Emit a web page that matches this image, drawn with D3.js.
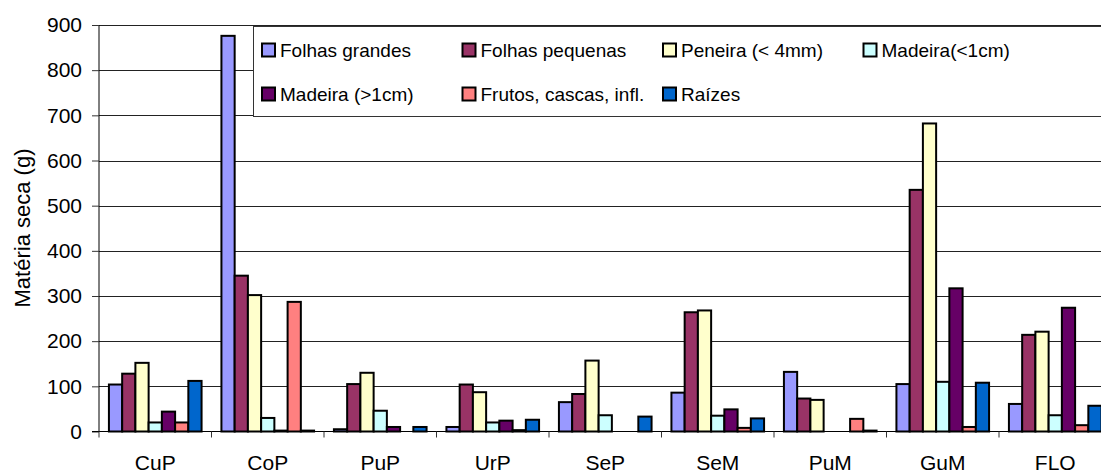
<!DOCTYPE html>
<html>
<head>
<meta charset="utf-8">
<script src="https://cdn.jsdelivr.net/npm/d3@7"></script>
<style>
  body { margin: 0; background: #fff; }
  svg { display: block; font-family: "Liberation Sans", Arial, sans-serif; }
</style>
</head>
<body>
<div id="chart"></div>
<script>
// categories (x axis)
var categories = ["CuP", "CoP", "PuP", "UrP", "SeP", "SeM", "PuM", "GuM", "FLO"];

// series names and colours
var seriesNames = ["Folhas grandes", "Folhas pequenas", "Peneira (< 4mm)", "Madeira(<1cm)",
                   "Madeira (>1cm)", "Frutos, cascas, infl.", "Raízes"];
var seriesColors = ["#9999ff", "#993366", "#ffffcc", "#ccffff", "#660066", "#ff8080", "#0066cc"];

// values per series, one per category
var folhasGrandes  = [104, 876,   5,  10,  65,  86, 132, 105,  61];
var folhasPequenas = [128, 345, 105, 104,  83, 264,  73, 535, 214];
var peneira        = [152, 302, 130,  87, 157, 268,  70, 682, 221];
var madeiraFina    = [ 20,  30,  46,  20,  36,  35,   0, 110,  36];
var madeiraGrossa  = [ 44,   2,  10,  24,   0,  49,   0, 317, 274];
var frutos         = [ 20, 287,   0,   3,   0,   8,  28,  10,  14];
var raizes         = [112,   2,  10,  26,  33,  29,   2, 108,  57];

var seriesValues = [folhasGrandes, folhasPequenas, peneira, madeiraFina, madeiraGrossa, frutos, raizes];

var yTicks = [0, 100, 200, 300, 400, 500, 600, 700, 800, 900];

var width = 1101,
    height = 474,
    plotLeft = 99,
    plotTop = 25,
    plotBottom = 431.5,
    groupW = 112.5;

var svg = d3.select("#chart")
    .append("svg")
    .attr("width", width)
    .attr("height", height);

var x0 = d3.scaleBand()
    .domain(categories)
    .range([plotLeft, plotLeft + groupW * categories.length]);

var x1 = d3.scaleBand()
    .domain(seriesNames)
    .range([0, x0.bandwidth()])
    .paddingOuter(0.75);

var y = d3.scaleLinear()
    .domain([0, 900])
    .range([plotBottom, plotTop]);

// gridlines
svg.append("g")
    .selectAll("line")
    .data(yTicks.slice(1))
    .enter()
    .append("line")
    .attr("x1", plotLeft)
    .attr("x2", width)
    .attr("y1", function (d) { return Math.round(y(d)) + 0.5; })
    .attr("y2", function (d) { return Math.round(y(d)) + 0.5; })
    .attr("stroke", "#222")
    .attr("stroke-width", 1);

// bars
var rows = [];
categories.forEach(function (c, i) {
    seriesNames.forEach(function (s, j) {
        rows.push({ cat: c, series: s, color: seriesColors[j], value: seriesValues[j][i] });
    });
});

svg.append("g")
    .selectAll("rect")
    .data(rows.filter(function (d) { return d.value > 0; }))
    .enter()
    .append("rect")
    .attr("x", function (d) { return x0(d.cat) + x1(d.series); })
    .attr("y", function (d) { return y(d.value); })
    .attr("width", x1.bandwidth())
    .attr("height", function (d) { return plotBottom - y(d.value); })
    .attr("fill", function (d) { return d.color; })
    .attr("stroke", "#000")
    .attr("stroke-width", 2);

// y axis
var yAxis = d3.axisLeft(y)
    .tickValues(yTicks)
    .tickSize(7)
    .tickPadding(10);

var gy = svg.append("g")
    .attr("transform", "translate(" + plotLeft + ",0)")
    .call(yAxis);
gy.select(".domain").attr("stroke", "#000").attr("d", "M0," + plotTop + "V" + plotBottom);
gy.selectAll(".tick line").attr("stroke", "#333");
gy.selectAll("text")
    .style("font-size", "21px")
    .style("font-family", "Liberation Sans, Arial, sans-serif")
    .attr("fill", "#000");

// x axis (ticks between groups)
svg.append("line")
    .attr("x1", plotLeft - 7)
    .attr("x2", width)
    .attr("y1", plotBottom)
    .attr("y2", plotBottom)
    .attr("stroke", "#000");

svg.append("g")
    .selectAll("line")
    .data(categories.concat(["end"]))
    .enter()
    .append("line")
    .attr("x1", function (d, i) { return plotLeft + i * x0.step(); })
    .attr("x2", function (d, i) { return plotLeft + i * x0.step(); })
    .attr("y1", plotBottom)
    .attr("y2", plotBottom + 6)
    .attr("stroke", "#333");

svg.append("g")
    .selectAll("text")
    .data(categories)
    .enter()
    .append("text")
    .attr("x", function (d) { return x0(d) + x0.bandwidth() / 2; })
    .attr("y", 470)
    .attr("text-anchor", "middle")
    .style("font-size", "21px")
    .text(function (d) { return d; });

// y axis title
svg.append("text")
    .attr("transform", "translate(30,228) rotate(-90)")
    .attr("text-anchor", "middle")
    .style("font-size", "22px")
    .text("Matéria seca (g)");

// legend
var legend = svg.append("g");
legend.append("rect")
    .attr("x", 253.5)
    .attr("y", 26.5)
    .attr("width", 880)
    .attr("height", 90)
    .attr("fill", "#fff")
    .attr("stroke", "#333");

var items = legend.selectAll("g.item")
    .data(seriesNames)
    .enter()
    .append("g")
    .attr("class", "item")
    .attr("transform", function (d, i) {
        return "translate(" + (262 + (i % 4) * 200.5) + "," + (i < 4 ? 50 : 94) + ")";
    });

items.append("rect")
    .attr("x", 0)
    .attr("y", -6.5)
    .attr("width", 13)
    .attr("height", 13)
    .attr("fill", function (d, i) { return seriesColors[i]; })
    .attr("stroke", "#000")
    .attr("stroke-width", 2);

items.append("text")
    .attr("x", 18)
    .attr("y", 7)
    .style("font-size", "19px")
    .text(function (d) { return d; });
</script>
</body>
</html>
